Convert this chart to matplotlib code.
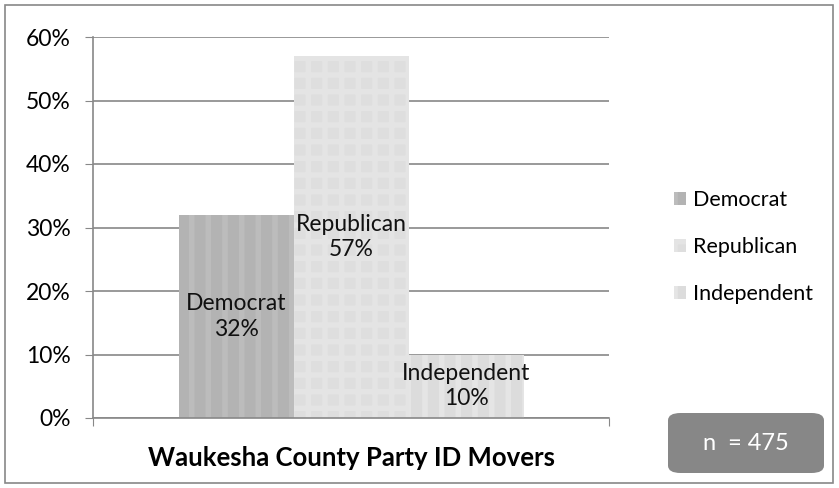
import matplotlib.pyplot as plt
from matplotlib.patches import FancyBboxPatch, Rectangle

plt.rcParams['font.family'] = ['Lato', 'DejaVu Sans']
plt.rcParams['hatch.linewidth'] = 4

parties = ["Democrat", "Republican", "Independent"]
shares = [32, 57, 10]
title = "Waukesha County Party ID Movers"
n_total = 475

faces = ["#b3b3b3", "#dedede", "#dcdcdc"]
hatch_cols = ["#bcbcbc", "#e4e4e4", "#e5e5e5"]
hatches = ["|", "+", "|"]

fig = plt.figure(figsize=(8.39, 4.88), dpi=100)
ax = fig.add_axes([93 / 839, 1 - 418 / 488, 516 / 839, 381 / 488])

width = 115 / 516
xs = [0.5 - width, 0.5, 0.5 + width]
bars = []
for x, v, fc, hc, h, name in zip(xs, shares, faces, hatch_cols, hatches, parties):
    b = ax.bar(x, v, width=width, color=fc, edgecolor=hc, linewidth=0,
               hatch=h, zorder=2)
    bars.append(b[0])
    ax.text(x, v / 2, f"{name}\n{v}%", ha="center", va="center",
            fontsize=16.5, color="#111111", linespacing=1.25, zorder=3)

ax.set_xlim(0, 1)
ax.set_ylim(0, 60)
ax.set_yticks(range(0, 61, 10))
ax.set_yticklabels([f"{t}%" for t in range(0, 61, 10)], fontsize=16.5)
ax.set_xticks([0, 1])
ax.set_xticklabels([])
ax.tick_params(axis="x", length=6, color="#888888")
ax.tick_params(axis="y", length=6, color="#888888", pad=10)
ax.yaxis.grid(True, color="#888888", linewidth=1.2, zorder=0)
ax.set_axisbelow(True)
for s in ["top", "right"]:
    ax.spines[s].set_visible(False)
for s in ["left", "bottom"]:
    ax.spines[s].set_color("#888888")
    ax.spines[s].set_linewidth(1.2)

ax.set_xlabel(title, fontsize=18.5, fontweight="bold", labelpad=11)

fig.legend(handles=bars, labels=parties, loc="center left",
           bbox_to_anchor=(655 / 839, 1 - 247 / 488), frameon=False,
           fontsize=15.5, handlelength=0.55, handleheight=0.55,
           handletextpad=0.3, labelspacing=1.25)

# outer border
fig.patches.append(Rectangle((5 / 839, 5 / 488), 828 / 839, 478 / 488,
                             transform=fig.transFigure, fill=False,
                             edgecolor="#888888", linewidth=1.2))
# n box
fig.patches.append(FancyBboxPatch((668 / 839, 1 - 473 / 488), 156 / 839, 60 / 488,
                                  boxstyle="round,pad=0,rounding_size=0.015",
                                  transform=fig.transFigure, facecolor="#878787",
                                  edgecolor="none"))
fig.text(746 / 839, 1 - 443 / 488, f"n  = {n_total}", ha="center", va="center",
         color="white", fontsize=17)

fig.savefig("out.png")
plt.close(fig)
